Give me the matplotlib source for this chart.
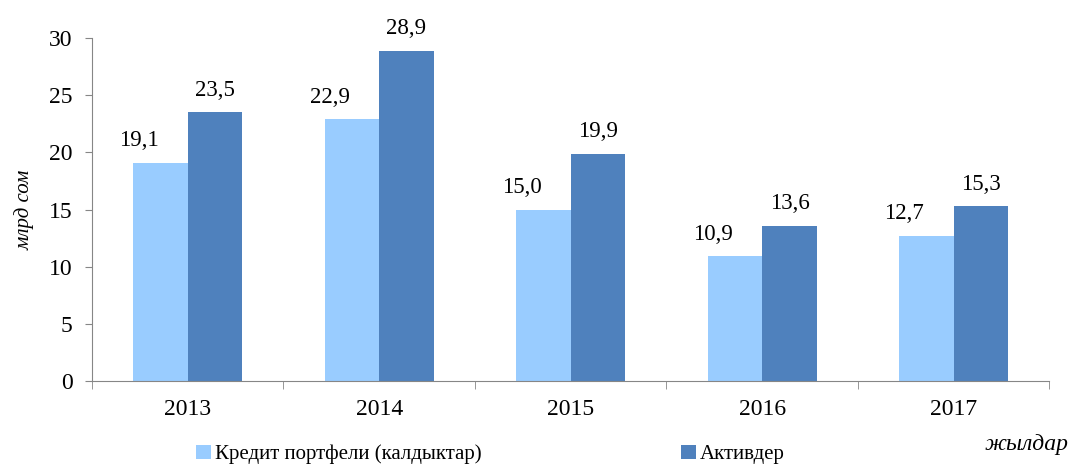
import matplotlib.pyplot as plt
import numpy as np

plt.rcParams['font.family'] = ['Liberation Serif', 'DejaVu Serif']

years = ['2013', '2014', '2015', '2016', '2017']
credit = [19.1, 22.9, 15.0, 10.9, 12.7]
assets = [23.5, 28.9, 19.9, 13.6, 15.3]

x = np.arange(len(years))
width = 0.285

fig = plt.figure(figsize=(10.71, 4.67), dpi=100)
ax = fig.add_axes([0.0859, 0.184, 0.894, 0.7346])

b1 = ax.bar(x - width/2, credit, width, color='#99CCFF', label='Кредит портфели (калдыктар)')
b2 = ax.bar(x + width/2, assets, width, color='#4F81BD', label='Активдер')

for rect, v in zip(b1, credit):
    ax.text(rect.get_x() + rect.get_width()/2 - 0.115, v + 1.0, f'{v:.1f}'.replace('.', ','),
            ha='center', va='bottom', fontsize=16.5)
for rect, v in zip(b2, assets):
    ax.text(rect.get_x() + rect.get_width()/2, v + 1.0, f'{v:.1f}'.replace('.', ','),
            ha='center', va='bottom', fontsize=16.5)

ax.set_xlim(-0.5, len(years) - 0.5)
ax.set_ylim(0, 30)
ax.set_yticks(range(0, 31, 5))
ax.set_xticks(x, years)
ax.set_xticks(np.arange(-0.5, len(years)), minor=True)
ax.tick_params(axis='x', which='major', length=0, pad=13, labelsize=17)
ax.tick_params(axis='x', which='minor', length=6, color='#868686', direction='out')
ax.tick_params(axis='y', length=5, color='#868686', labelsize=17, pad=9)

for s in ['top', 'right']:
    ax.spines[s].set_visible(False)
for s in ['left', 'bottom']:
    ax.spines[s].set_color('#868686')

ax.set_ylabel('млрд сом', fontsize=15, style='italic', labelpad=10)
fig.text(0.998, 0.049, 'жылдар', fontsize=17, style='italic', ha='right', va='center')

fig.legend(handles=[b1, b2], loc='center', bbox_to_anchor=(0.458, 0.027), ncol=2,
           frameon=False, fontsize=15, handlelength=0.7, handleheight=0.7,
           handletextpad=0.2, columnspacing=9.6)

fig.savefig('out.png', dpi=100)
